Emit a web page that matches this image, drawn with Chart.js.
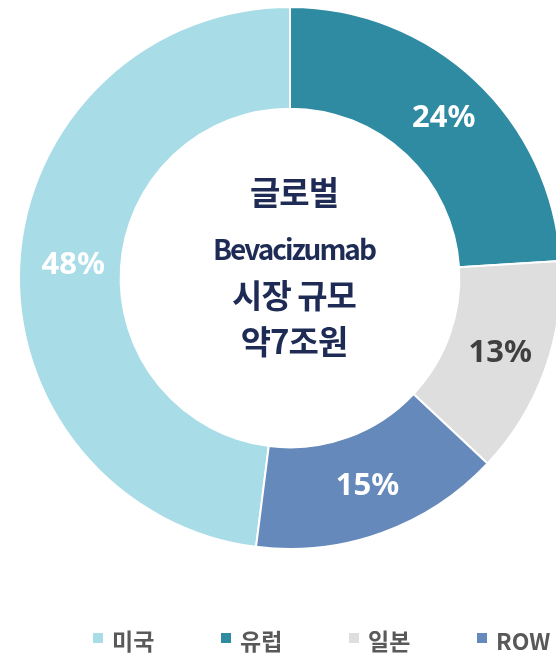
<!DOCTYPE html>
<html lang="ko">
<head>
  <meta charset="UTF-8" />
  <title>Bevacizumab 시장 규모</title>
  <script src="https://cdn.jsdelivr.net/npm/chart.js"></script>
  <style>
    body { margin: 0; background: #fff; overflow: hidden; }
    #wrap { position: relative; width: 580px; height: 654px; }
  </style>
</head>
<body>
  <div id="wrap"><canvas id="marketChart"></canvas></div>

  <script>
    // data
    const regions = ['미국', '유럽', '일본', 'ROW'];
    const shares = [48, 24, 13, 15];
    const regionColors = ['#a8dce7', '#2e8ba1', '#dedede', '#6589ba'];
    const pctColors = ['#ffffff', '#ffffff', '#404040', '#ffffff'];
    const centerLines = ['글로벌', 'Bevacizumab', '시장 규모', '약7조원'];

    const total = shares.reduce((a, b) => a + b, 0);

    // percent labels on each slice
    const sliceLabels = {
      id: 'sliceLabels',
      afterDatasetsDraw(chart) {
        const ctx = chart.ctx;
        const arcs = chart.getDatasetMeta(0).data;
        ctx.save();
        ctx.font = 'bold 31px "Noto Sans"';
        ctx.textAlign = 'center';
        ctx.textBaseline = 'middle';
        arcs.forEach((arc, i) => {
          const p = arc.tooltipPosition();
          ctx.fillStyle = pctColors[i];
          ctx.fillText(shares[i] + '%', p.x + 3, p.y + 1);
        });
        ctx.restore();
      }
    };

    // title text in the hole
    const centerText = {
      id: 'centerText',
      afterDraw(chart) {
        const ctx = chart.ctx;
        const arc = chart.getDatasetMeta(0).data[0];
        const offsets = [-86, -29, 17, 63];
        ctx.save();
        ctx.fillStyle = '#1e2c55';
        ctx.textAlign = 'center';
        ctx.textBaseline = 'middle';
        centerLines.forEach((line, i) => {
          if (i === 1) {
            ctx.font = 'bold 28px "Noto Sans CJK KR"';
            ctx.letterSpacing = '-2px';
          } else {
            ctx.font = 'bold 33px "Noto Sans CJK KR"';
            ctx.letterSpacing = '-1px';
          }
          ctx.fillText(line, arc.x + 4, arc.y + offsets[i]);
        });
        ctx.restore();
      }
    };

    // bottom legend, spaced like the original
    const bottomLegend = {
      id: 'bottomLegend',
      afterDraw(chart) {
        const ctx = chart.ctx;
        let x = 93;
        const y = 638;
        ctx.save();
        ctx.font = 'bold 23px "Noto Sans CJK KR"';
        ctx.textBaseline = 'middle';
        ctx.textAlign = 'left';
        chart.data.labels.forEach((lab, i) => {
          ctx.fillStyle = chart.data.datasets[0].backgroundColor[i];
          ctx.fillRect(x, y - 5, 10, 10);
          ctx.fillStyle = '#595959';
          ctx.fillText(lab, x + 19, y + 3);
          x += 128;
        });
        ctx.restore();
      }
    };

    new Chart(document.getElementById('marketChart'), {
      type: 'doughnut',
      data: {
        labels: regions,
        datasets: [{
          data: shares,
          backgroundColor: regionColors,
          borderColor: '#ffffff',
          borderWidth: 2,
          hoverOffset: 0
        }]
      },
      options: {
        responsive: true,
        maintainAspectRatio: false,
        animation: false,
        cutout: '62.5%',
        rotation: -(shares[0] / total) * 360,
        layout: { padding: { left: 17, right: 17, top: 6, bottom: 104 } },
        plugins: {
          legend: { display: false },
          tooltip: { enabled: false }
        }
      },
      plugins: [sliceLabels, centerText, bottomLegend]
    });
  </script>
</body>
</html>
